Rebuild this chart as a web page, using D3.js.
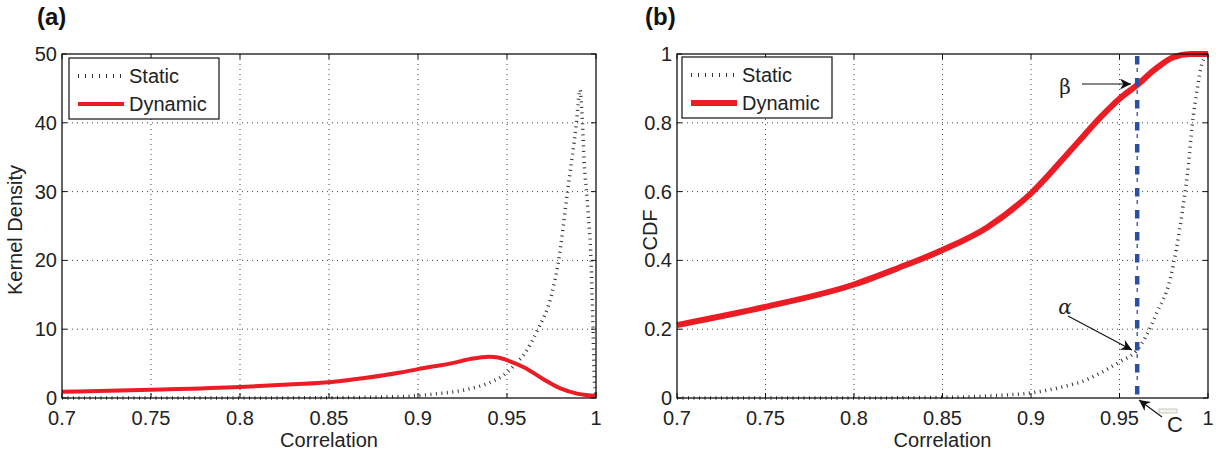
<!DOCTYPE html>
<html><head><meta charset="utf-8">
<script src="https://cdn.jsdelivr.net/npm/d3@7"></script>
<style>
body{margin:0;background:#fff;}
svg{display:block;}
text{font-family:"Liberation Sans",Arial,Helvetica,sans-serif;fill:#222;}
</style></head>
<body>
<svg id="chart" width="1228" height="452"></svg>
<script>
// ---------- data ----------
const xTicks = [0.7, 0.75, 0.8, 0.85, 0.9, 0.95, 1];
const xTickLabels = ["0.7", "0.75", "0.8", "0.85", "0.9", "0.95", "1"];
const densityTicks = [0, 10, 20, 30, 40, 50];
const densityTickLabels = ["0", "10", "20", "30", "40", "50"];
const cdfTicks = [0, 0.2, 0.4, 0.6, 0.8, 1];
const cdfTickLabels = ["0", "0.2", "0.4", "0.6", "0.8", "1"];
const seriesNames = ["Static", "Dynamic"];

// panel (a): kernel density [correlation, density]
const staticDensity = [[0.7,0],[0.8,0],[0.85,0.05],[0.88,0.15],[0.9,0.35],[0.91,0.6],[0.92,0.9],[0.93,1.4],[0.94,2.2],[0.95,3.7],[0.955,5],[0.96,6.5],[0.967,9.8],[0.975,15],[0.979,20],[0.984,30],[0.989,40],[0.991,44.8],[0.992,42],[0.9933,34.6],[0.9955,27.3],[0.9972,20],[0.9983,10.4],[0.9992,2],[1.0,0.3]];
const dynamicDensity = [[0.7,0.9],[0.75,1.2],[0.8,1.6],[0.83,2.0],[0.85,2.3],[0.87,2.9],[0.89,3.7],[0.9,4.2],[0.92,5.1],[0.93,5.7],[0.94,6.0],[0.945,5.9],[0.95,5.5],[0.96,4.4],[0.97,2.8],[0.98,1.4],[0.99,0.6],[1.0,0.3]];

// panel (b): CDF [correlation, cdf]
const staticCdf = [[0.7,0],[0.8,0],[0.85,0.002],[0.88,0.007],[0.9,0.015],[0.92,0.035],[0.93,0.05],[0.94,0.075],[0.95,0.105],[0.96,0.14],[0.965,0.18],[0.971,0.247],[0.9785,0.343],[0.982,0.43],[0.986,0.56],[0.989,0.68],[0.991,0.79],[0.994,0.9],[0.9965,0.97],[1.0,1.0]];
const dynamicCdf = [[0.7,0.212],[0.75,0.265],[0.8,0.33],[0.825,0.378],[0.85,0.43],[0.875,0.495],[0.9,0.595],[0.925,0.735],[0.94,0.82],[0.95,0.87],[0.96,0.91],[0.97,0.955],[0.98,0.99],[0.99,1.0],[1.0,1.0]];

const thresholdC = 0.96;
const annotations = [
  {label:"β", text:[1065,87], from:[1082,84], to:[1131,84], italic:false},
  {label:"α", text:[1065,307], from:[1068,316], to:[1132,350], italic:true},
  {label:"C", text:[1175,425], from:[1162,417], to:[1139,400], italic:false, sans:true}
];

// ---------- drawing ----------
const svg = d3.select("#chart");
const RED = "#ec1c24", BLUE = "#2c4ea3", DOT = "#333";

const defs = svg.append("defs");
defs.append("marker").attr("id","arrow").attr("viewBox","0 0 10 10")
  .attr("refX",10).attr("refY",5).attr("markerWidth",15).attr("markerHeight",11)
  .attr("markerUnits","userSpaceOnUse").attr("orient","auto")
  .append("path").attr("d","M0,0 L10,5 L0,10 L3,5 Z").attr("fill","#111");

function panel(opts){
  const {left,right,top,bottom,yDomain,yTicks,yLabels,yTitle,yTitleX,title,titleX,series,legend,redW} = opts;
  const x = d3.scaleLinear().domain([0.7,1]).range([left,right]);
  const y = d3.scaleLinear().domain(yDomain).range([bottom,top]);
  const g = svg.append("g");

  // grid
  g.selectAll(".vg").data(xTicks.slice(1,-1)).join("line")
    .attr("x1",d=>x(d)).attr("x2",d=>x(d)).attr("y1",top).attr("y2",bottom)
    .attr("stroke","#444").attr("stroke-width",1).attr("stroke-dasharray","1,4");
  g.selectAll(".hg").data(yTicks.slice(1,-1)).join("line")
    .attr("x1",left).attr("x2",right).attr("y1",d=>y(d)).attr("y2",d=>y(d))
    .attr("stroke","#444").attr("stroke-width",1).attr("stroke-dasharray","1,4");

  const line = d3.line().x(d=>x(d[0])).y(d=>y(d[1])).curve(d3.curveMonotoneX);
  // static dotted (rendered as short perpendicular ticks)
  g.append("path").attr("d",line(series[0])).attr("fill","none")
    .attr("stroke",DOT).attr("stroke-width",3.5).attr("stroke-dasharray","1,4.5");
  // dynamic red
  g.append("path").attr("d",line(series[1])).attr("fill","none")
    .attr("stroke",RED).attr("stroke-width",redW).attr("stroke-linejoin","round");

  if (opts.after) opts.after(g,x,y);

  // axes box
  g.append("rect").attr("x",left).attr("y",top).attr("width",right-left).attr("height",bottom-top)
    .attr("fill","none").attr("stroke","#111").attr("stroke-width",1.3);
  // ticks inside
  xTicks.forEach(t=>{
    g.append("line").attr("x1",x(t)).attr("x2",x(t)).attr("y1",bottom).attr("y2",bottom-5).attr("stroke","#111");
    g.append("line").attr("x1",x(t)).attr("x2",x(t)).attr("y1",top).attr("y2",top+5).attr("stroke","#111");
  });
  yTicks.forEach(t=>{
    g.append("line").attr("x1",left).attr("x2",left+5).attr("y1",y(t)).attr("y2",y(t)).attr("stroke","#111");
    g.append("line").attr("x1",right).attr("x2",right-5).attr("y1",y(t)).attr("y2",y(t)).attr("stroke","#111");
  });
  // tick labels
  g.selectAll(".xl").data(xTicks).join("text")
    .attr("x",d=>x(d)).attr("y",bottom+27).attr("text-anchor","middle")
    .attr("font-size",20).text((d,i)=>xTickLabels[i]);
  g.selectAll(".yl").data(yTicks).join("text")
    .attr("x",left-5).attr("y",d=>y(d)+7).attr("text-anchor","end")
    .attr("font-size",20).text((d,i)=>yLabels[i]);
  // titles
  g.append("text").attr("x",(left+right)/2).attr("y",447).attr("text-anchor","middle")
    .attr("font-size",20).text("Correlation");
  g.append("text").attr("transform",`translate(${yTitleX},${(top+bottom)/2+4}) rotate(-90)`)
    .attr("text-anchor","middle").attr("font-size",20).text(yTitle);
  g.append("text").attr("x",titleX).attr("y",25).attr("font-size",24).attr("font-weight","bold")
    .style("fill","#111").text(title);

  // legend
  const L = legend;
  g.append("rect").attr("x",L.x).attr("y",L.y).attr("width",L.w).attr("height",L.h)
    .attr("fill","#fff").attr("stroke","#111").attr("stroke-width",1.2);
  g.append("line").attr("x1",L.x+9).attr("x2",L.x+55).attr("y1",L.y+18).attr("y2",L.y+18)
    .attr("stroke",DOT).attr("stroke-width",4).attr("stroke-dasharray","1,6");
  g.append("line").attr("x1",L.x+9).attr("x2",L.x+55).attr("y1",L.y+46).attr("y2",L.y+46)
    .attr("stroke",RED).attr("stroke-width",redW);
  g.append("text").attr("x",L.x+60).attr("y",L.y+25).attr("font-size",20).text(seriesNames[0]);
  g.append("text").attr("x",L.x+60).attr("y",L.y+53).attr("font-size",20).text(seriesNames[1]);
}

panel({left:62,right:596,top:54,bottom:398,yDomain:[0,50],yTicks:densityTicks,yLabels:densityTickLabels,
  yTitle:"Kernel Density",yTitleX:22,title:"(a)",titleX:37,series:[staticDensity,dynamicDensity],
  legend:{x:69,y:58,w:150,h:61},redW:4});

panel({left:677,right:1208,top:54,bottom:398,yDomain:[0,1],yTicks:cdfTicks,yLabels:cdfTickLabels,
  yTitle:"CDF",yTitleX:657,title:"(b)",titleX:645,series:[staticCdf,dynamicCdf],
  legend:{x:682,y:57,w:150,h:61},redW:6,
  after:(g,x,y)=>{
    // threshold C dash-dot line
    g.append("line").attr("x1",x(thresholdC)).attr("x2",x(thresholdC)).attr("y1",y(1)).attr("y2",y(0))
      .attr("stroke",BLUE).attr("stroke-width",1.3).attr("stroke-dasharray","0,12,4,6").attr("stroke-dashoffset",-2);
    g.append("line").attr("x1",x(thresholdC)).attr("x2",x(thresholdC)).attr("y1",y(1)).attr("y2",y(0))
      .attr("stroke",BLUE).attr("stroke-width",4.5).attr("stroke-dasharray","8.5,13.5").attr("stroke-dashoffset",-2);
    // small box near C
    g.append("rect").attr("x",1159).attr("y",409).attr("width",18).attr("height",4)
      .attr("fill","#f4f4ee").attr("stroke","#c8c8c0").attr("stroke-width",1);
    annotations.forEach(a=>{
      g.append("line").attr("x1",a.from[0]).attr("y1",a.from[1]).attr("x2",a.to[0]).attr("y2",a.to[1])
        .attr("stroke","#111").attr("stroke-width",1.1).attr("marker-end","url(#arrow)");
      g.append("text").attr("x",a.text[0]).attr("y",a.text[1]+7).attr("text-anchor","middle")
        .attr("font-size",a.sans?22:20)
        .style("font-family",a.sans?null:"'DejaVu Serif','Liberation Serif',serif")
        .style("font-style",a.italic?"italic":"normal").text(a.label);
    });
  }});
</script>
</body></html>
